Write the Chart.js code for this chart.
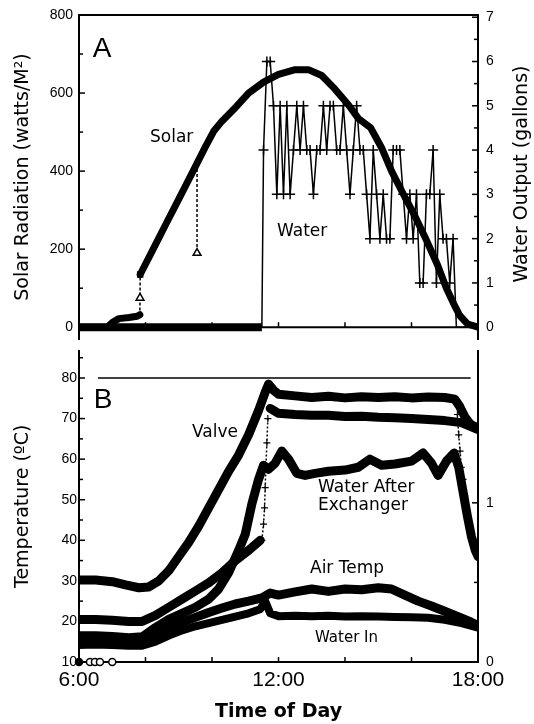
<!DOCTYPE html>
<html><head><meta charset="utf-8">
<script src="https://cdn.jsdelivr.net/npm/chart.js@4.4.1/dist/chart.umd.min.js"></script>
<style>
html,body{margin:0;padding:0;background:#fff;width:534px;height:724px;overflow:hidden;}
canvas{position:absolute;left:0;}
#a{top:0;}
#b{top:345px;}
</style></head><body>
<canvas id="a" width="534" height="345"></canvas>
<canvas id="b" width="534" height="379"></canvas>
<script>
// ---------- Panel A data ----------
const solarHours = [6.0, 6.5, 6.85, 7.0, 7.2, 7.5, 7.75, 7.83, 7.835,
  7.84, 8.2, 8.6, 9.0, 9.4, 9.8, 10.05, 10.3, 10.64, 11.1, 11.55, 12.0, 12.5, 12.9, 13.3, 13.7, 14.1, 14.4,
  14.77, 15.1, 15.4, 15.76, 16.1, 16.4, 16.78, 17.05, 17.27, 17.45, 17.69, 17.85, 18.0];
const solarWm2 = [0, 0, 0, 12, 22, 25, 28, 32, null,
  135, 195, 262, 328, 395, 462, 502, 528, 557, 600, 628, 648, 660, 660, 645, 610, 570, 535,
  511, 460, 400, 340, 285, 232, 160, 100, 60, 30, 8, 4, 0];
const spikeHours = [7.83, 7.835, 7.84, 9.5, 9.55, 9.55];
const spikeWm2 = [30, 75, 135, null, 418, 190];
const waterHours = [6.0, 7.0, 8.0, 9.0, 10.0, 11.0, 11.5, 11.55, 11.65, 11.75, 11.85, 11.95, 12.05, 12.15, 12.25,
  12.35, 12.45, 12.55, 12.65, 12.75, 12.85, 12.95, 13.05, 13.15, 13.25, 13.35, 13.45, 13.55, 13.65, 13.75,
  13.85, 13.95, 14.05, 14.15, 14.25, 14.35, 14.45, 14.55, 14.65, 14.75, 14.85, 14.95, 15.05, 15.15, 15.25,
  15.35, 15.45, 15.55, 15.65, 15.75, 15.85, 15.95, 16.05, 16.15, 16.25, 16.35, 16.45, 16.55, 16.65, 16.75,
  16.85, 16.95, 17.05, 17.15, 17.25, 17.35, 17.5, 18.0];
const waterGallons = [0, 0, 0, 0, 0, 0, 0, 4, 6, 6, 5, 3, 5, 3, 5,
  3, 4, 5, 4, 5, 4, 4, 3, 4, 4, 5, 4, 5, 5, 4,
  4, 5, 4, 3, 4, 5, 4, 4, 3, 2, 4, 3, 2, 3, 2,
  2, 4, 4, 4, 3, 2, 3, 2, 3, 1, 1, 3, 3, 4, 1,
  3, 2, 2, 1, 2, 0, 0, 0];
const solarTickValues = [0, 200, 400, 600, 800];
const waterTickValues = [0, 1, 2, 3, 4, 5, 6, 7];

// ---------- Panel B data ----------
const collectorHours = [6.0, 6.5, 7.0, 7.4, 7.8, 8.1, 8.4, 8.7, 9.0, 9.3, 9.6, 9.9, 10.2, 10.5, 10.8, 11.1, 11.4,
  11.6, 11.7, 11.85, 12.0, 12.5, 13.0, 13.5, 14.0, 14.5, 15.0, 15.5, 16.0, 16.5, 17.0, 17.3, 17.45, 17.6, 17.75, 17.9];
const collectorTemp = [30.2, 30.2, 29.8, 29.0, 28.3, 28.5, 30.0, 32.5, 36.0, 39.5, 43.5, 48.0, 52.5, 57.0, 61.0, 66.0, 72.0,
  76.5, 78.5, 77.0, 76.0, 75.6, 75.2, 75.5, 75.1, 75.4, 75.2, 75.4, 75.1, 75.3, 75.2, 74.8, 73.0, 70.5, 68.8, 68.0];
const valveHours = [6.0, 6.5, 7.0, 7.5, 7.9, 8.3, 8.7, 9.1, 9.5, 9.9, 10.3, 10.7, 11.1, 11.45, 11.6,
  11.75, 12.0, 12.5, 13.0, 13.5, 14.0, 14.5, 15.0, 15.5, 16.0, 16.5, 17.0, 17.5, 18.0];
const valveTemp = [20.5, 20.5, 20.3, 20.0, 20.0, 21.5, 23.5, 25.5, 27.5, 29.5, 32.0, 35.0, 37.5, 40.0, null,
  72.5, 71.3, 71.0, 70.8, 70.8, 70.5, 70.6, 70.3, 70.2, 70.0, 69.8, 69.5, 69.0, 67.3];
const transitionHours = [11.5, 11.55, 11.58, 11.6, 11.62, 11.65, 11.68, 12.0, 17.38, 17.42, 17.46, 17.5, 17.55, 17.6, 17.68];
const transitionTemp = [40, 44, 48, 53, 58, 64, 70, null, 71, 66, 62, 58, 55, 51, 47];
const afterHours = [6.0, 6.5, 7.0, 7.5, 7.9, 8.3, 8.7, 9.1, 9.5, 9.9, 10.2, 10.5, 10.8, 11.0, 11.2, 11.4, 11.55, 11.7,
  11.9, 12.1, 12.3, 12.55, 12.8, 13.1, 13.5, 14.0, 14.4, 14.75, 15.1, 15.5, 16.0, 16.35, 16.6, 16.8, 17.05, 17.28,
  17.42, 17.55, 17.68, 17.8, 17.92, 18.0];
const afterTemp = [16.5, 16.5, 16.3, 16.0, 16.2, 18.5, 20.5, 22.0, 23.5, 25.5, 28.0, 32.0, 37.5, 41.5, 49.0, 55.0, 58.5, 57.5,
  59.0, 62.0, 60.0, 56.5, 56.0, 56.5, 57.0, 57.3, 58.0, 60.0, 58.5, 58.8, 59.5, 61.5, 59.0, 56.0, 59.5, 61.5,
  58.0, 52.0, 46.0, 41.0, 37.5, 36.0];
const airHours = [6.0, 6.5, 7.0, 7.5, 7.9, 8.3, 8.7, 9.1, 9.5, 9.9, 10.3, 10.7, 11.1, 11.5, 11.75, 12.0, 12.5, 13.0,
  13.5, 14.0, 14.5, 15.0, 15.4, 15.8, 16.2, 16.6, 17.0, 17.4, 17.8, 18.0];
const airTemp = [15.5, 15.7, 15.5, 15.2, 15.0, 16.5, 18.3, 19.8, 21.0, 22.2, 23.3, 24.3, 25.0, 25.8, 27.0, 26.5, 27.3, 28.0,
  27.4, 28.0, 27.8, 28.3, 28.0, 26.5, 25.0, 23.8, 22.5, 21.2, 19.8, 19.0];
const waterInHours = [6.0, 6.5, 7.0, 7.5, 7.9, 8.3, 8.7, 9.1, 9.5, 9.9, 10.3, 10.7, 11.1, 11.45, 11.6, 11.75, 12.0, 12.5,
  13.0, 13.5, 14.0, 14.5, 15.0, 15.5, 16.0, 16.5, 17.0, 17.5, 18.0];
const waterInTemp = [14.2, 14.3, 14.2, 14.0, 14.0, 15.0, 16.5, 17.8, 18.8, 19.6, 20.4, 21.2, 22.0, 23.0, 25.0, 22.0, 21.3, 21.4,
  21.3, 21.4, 21.2, 21.3, 21.2, 21.1, 21.0, 20.9, 20.4, 19.6, 18.5];
const refHours = [6.57, 17.78];
const refTemp = [80, 80];
const startHours = [6.0, 6.33, 6.48, 6.63, 7.0];
const startTemp = [10, 10, 10, 10, 10];
const tempTickValues = [10, 20, 30, 40, 50, 60, 70, 80];
const rightBTickValues = [0, 1];
const timeTickValues = [6, 12, 18];
const minorHourTicks = [8, 10, 12, 14, 16];

// ---------- helpers ----------
const SANS = 'DejaVu Sans';
const ARIAL = 'Liberation Sans';
function pts(h, v) { return h.map((x, i) => ({x: x, y: v[i]})); }
function fixW(w) { return s => { s.width = w; s.paddingTop = 0; s.paddingBottom = 0; s.paddingLeft = 0; s.paddingRight = 0; }; }
function fixH(h) { return s => { s.height = h; s.paddingTop = 0; s.paddingBottom = 0; s.paddingLeft = 0; s.paddingRight = 0; }; }
function setTicks(vals) { return s => { s.ticks = vals.map(v => ({value: v})); }; }
function yAxis(pos, min, max, tickVals, width, pad, title) {
  const o = {
    type: 'linear', position: pos, min: min, max: max,
    afterBuildTicks: setTicks(tickVals), afterFit: fixW(width),
    grid: {display: false, drawTicks: false},
    border: {display: true, color: '#000', width: 2},
    ticks: {padding: pad, color: '#000', font: {family: ARIAL, size: 14}, autoSkip: false}
  };
  if (title) o.title = {display: true, text: title, color: '#000', font: {family: SANS, size: 19}, padding: {top: 12, bottom: 0}};
  return o;
}
function seg(ctx, x1, y1, x2, y2) { ctx.beginPath(); ctx.moveTo(x1, y1); ctx.lineTo(x2, y2); ctx.stroke(); }
function text(ctx, s, x, y, font, align) { ctx.font = font; ctx.textAlign = align || 'left'; ctx.textBaseline = 'alphabetic'; ctx.fillStyle = '#000'; ctx.fillText(s, x, y); }
const thick = {borderColor: '#000', backgroundColor: '#000', pointRadius: 0, fill: false, tension: 0, borderJoinStyle: 'round', borderCapStyle: 'round', spanGaps: false};

// ---------- Chart A ----------
const decoA = {
  id: 'decoA',
  afterDatasetsDraw(chart) {
    const {ctx, chartArea: ca, scales} = chart;
    ctx.save(); ctx.strokeStyle = '#000'; ctx.lineWidth = 2;
    seg(ctx, ca.left, ca.top, ca.right, ca.top);
    const y0 = scales.yS.getPixelForValue(0);
    seg(ctx, ca.left, y0, ca.right, y0);
    ctx.lineWidth = 1.5;
    minorHourTicks.forEach(h => { const x = scales.x.getPixelForValue(h); seg(ctx, x, y0, x, y0 - 5); });
    for (let v = 0; v <= 800; v += 100) { const y = scales.yS.getPixelForValue(v); seg(ctx, ca.left, y, ca.left + (v % 200 === 0 ? 6 : 4), y); }
    for (let v = 0; v <= 7; v += 0.5) { const y = scales.yW.getPixelForValue(v); seg(ctx, ca.right - (v % 1 === 0 ? 6 : 4), y, ca.right, y); }
    ctx.restore();
  },
  afterDraw(chart) {
    const ctx = chart.ctx;
    ctx.save();
    text(ctx, 'A', 102, 57, '28px "' + ARIAL + '"', 'center');
    text(ctx, 'Solar', 150, 142, '17px "' + SANS + '"');
    text(ctx, 'Water', 277, 236, '17px "' + SANS + '"');
    ctx.translate(522, 174); ctx.rotate(-Math.PI / 2);
    ctx.font = '19px "' + SANS + '"'; ctx.textAlign = 'center'; ctx.textBaseline = 'middle'; ctx.fillStyle = '#000';
    ctx.fillText('Water Output (gallons)', 0, 0);
    ctx.restore();
  }
};

new Chart(document.getElementById('a'), {
  type: 'line',
  data: {datasets: [
    Object.assign({}, thick, {label: 'Solar', data: pts(solarHours, solarWm2), yAxisID: 'yS', borderWidth: 7}),
    {label: 'Solar outliers', data: pts(spikeHours, spikeWm2), yAxisID: 'yS', borderColor: '#000', borderWidth: 1.5,
      borderDash: [3, 2], spanGaps: false, pointStyle: ['circle', 'triangle', 'rect', 'circle', 'circle', 'triangle'],
      pointRadius: [0, 4.5, 3.5, 0, 0, 4.5], pointBackgroundColor: '#fff', pointBorderColor: '#000', pointBorderWidth: 1.5},
    {label: 'Water', data: pts(waterHours, waterGallons), yAxisID: 'yW', borderColor: '#000', tension: 0, fill: false,
      borderWidth: 1.5,
      segment: {borderWidth: c => (c.p0.parsed.y === 0 && c.p1.parsed.y === 0 && c.p1.parsed.x <= 11.5) ? 8 : 1.5},
      pointStyle: 'cross', pointRadius: c => (c.raw && c.raw.y > 0 ? 5 : 0), pointBorderColor: '#000', pointBorderWidth: 1.5}
  ]},
  options: {
    responsive: false, animation: false, devicePixelRatio: 1,
    layout: {padding: {top: 15, left: 0, right: 0, bottom: 0}},
    plugins: {legend: {display: false}, tooltip: {enabled: false}},
    scales: {
      x: {type: 'linear', min: 6, max: 18, display: false},
      yS: yAxis('left', -30.2, 800, solarTickValues, 79, 6, 'Solar Radiation (watts/M²)'),
      yW: yAxis('right', -0.266, 7.05, waterTickValues, 56, 8, null)
    }
  },
  plugins: [decoA]
});

// ---------- Chart B ----------
const decoB = {
  id: 'decoB',
  afterDatasetsDraw(chart) {
    const {ctx, chartArea: ca, scales} = chart;
    ctx.save(); ctx.strokeStyle = '#000'; ctx.lineWidth = 1.5;
    minorHourTicks.forEach(h => { const x = scales.x.getPixelForValue(h); seg(ctx, x, ca.bottom, x, ca.bottom - 5); });
    for (let v = 10; v <= 85; v += 5) { const y = scales.yT.getPixelForValue(v); seg(ctx, ca.left, y, ca.left + (v % 10 === 0 ? 6 : 4), y); }
    for (let v = 0; v <= 1.5; v += 0.5) { const y = scales.yR.getPixelForValue(v); seg(ctx, ca.right - (v % 1 === 0 ? 6 : 4), y, ca.right, y); }
    ctx.restore();
  },
  afterDraw(chart) {
    const ctx = chart.ctx;
    ctx.save();
    text(ctx, 'B', 103, 63, '28px "' + ARIAL + '"', 'center');
    text(ctx, 'Valve', 192, 92, '17px "' + SANS + '"');
    text(ctx, 'Water After', 318, 147, '17px "' + SANS + '"');
    text(ctx, 'Exchanger', 318, 165, '17px "' + SANS + '"');
    text(ctx, 'Air Temp', 310, 228, '17px "' + SANS + '"');
    text(ctx, 'Water In', 315, 297, '15px "' + SANS + '"');
    ctx.restore();
  }
};

new Chart(document.getElementById('b'), {
  type: 'line',
  data: {datasets: [
    {label: 'Start', data: pts(startHours, startTemp), yAxisID: 'yT', showLine: false, clip: false,
      pointRadius: 3.5, pointBorderColor: '#000', pointBorderWidth: 1.5,
      pointBackgroundColor: ['#000', '#fff', '#fff', '#fff', '#fff']},
    {label: 'Transition', data: pts(transitionHours, transitionTemp), yAxisID: 'yT', borderColor: '#000', borderWidth: 1.5,
      borderDash: [2, 2], spanGaps: false, pointStyle: 'cross', pointRadius: 3.5, pointBorderColor: '#000', pointBorderWidth: 1.2},
    Object.assign({}, thick, {label: 'Collector', data: pts(collectorHours, collectorTemp), yAxisID: 'yT', borderWidth: 9}),
    Object.assign({}, thick, {label: 'Valve', data: pts(valveHours, valveTemp), yAxisID: 'yT', borderWidth: 9}),
    Object.assign({}, thick, {label: 'Water After Exchanger', data: pts(afterHours, afterTemp), yAxisID: 'yT', borderWidth: 9}),
    Object.assign({}, thick, {label: 'Air Temp', data: pts(airHours, airTemp), yAxisID: 'yT', borderWidth: 9}),
    Object.assign({}, thick, {label: 'Water In', data: pts(waterInHours, waterInTemp), yAxisID: 'yT', borderWidth: 8}),
    {label: 'Reference 80', data: pts(refHours, refTemp), yAxisID: 'yT', borderColor: '#000', borderWidth: 1.5, pointRadius: 0}
  ]},
  options: {
    responsive: false, animation: false, devicePixelRatio: 1,
    layout: {padding: {top: 0, left: 0, right: 0, bottom: 0}},
    plugins: {legend: {display: false}, tooltip: {enabled: false}},
    scales: {
      x: {type: 'linear', position: 'bottom', min: 6, max: 18,
        afterBuildTicks: setTicks(timeTickValues), afterFit: fixH(62),
        grid: {display: false, drawTicks: false},
        border: {display: true, color: '#000', width: 2},
        ticks: {padding: 6, color: '#000', font: {family: ARIAL, size: 21}, maxRotation: 0, autoSkip: false,
          callback: v => v + ':00'},
        title: {display: true, text: 'Time of Day', color: '#000', font: {family: SANS, size: 19, weight: 'bold'}, padding: {top: 0, bottom: 1}}},
      yT: yAxis('left', 10, 86.78, tempTickValues, 79, 2, 'Temperature (ºC)'),
      yR: yAxis('right', 0, 1.957, rightBTickValues, 56, 8, null)
    }
  },
  plugins: [decoB]
});
</script>
</body></html>
